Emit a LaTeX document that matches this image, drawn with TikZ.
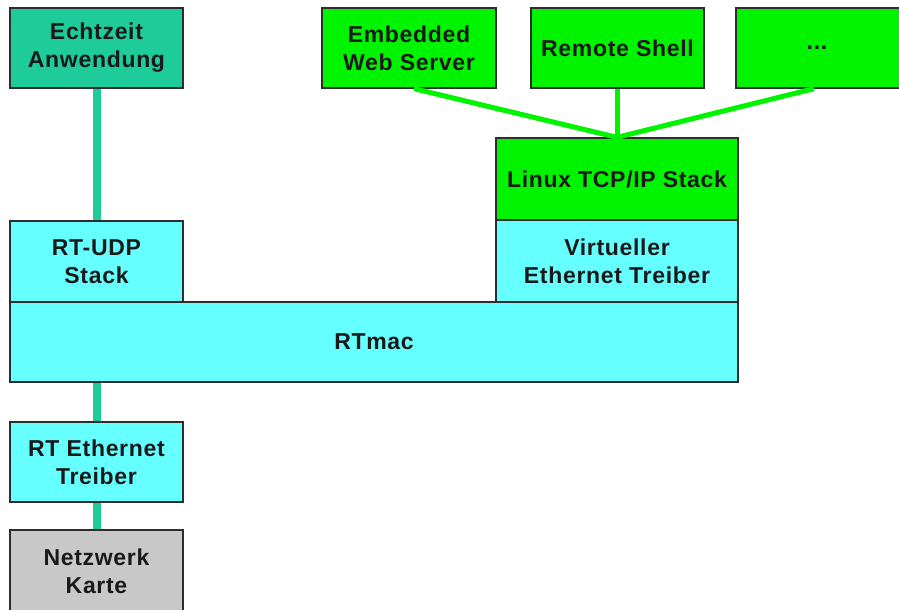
\documentclass[tikz,border=0pt]{standalone}
\usepackage{fontspec}
\setmainfont[LetterSpace=3]{Liberation Sans}
\definecolor{appteal}{RGB}{30,204,153}
\definecolor{linuxgreen}{RGB}{0,244,0}
\definecolor{rtcyan}{RGB}{102,255,255}
\definecolor{nicgray}{RGB}{200,200,200}
\definecolor{edgegray}{RGB}{45,45,45}
\begin{document}
\begin{tikzpicture}[x=1pt,y=-1pt,
  layer/.style={draw=edgegray, line width=1.3pt, inner sep=0pt, align=center,
    text=black!90, font=\bfseries\fontsize{23}{28}\selectfont},
  teallink/.style={draw=appteal, line width=8pt},
  greenlink/.style={draw=linuxgreen, line width=5pt}]
\useasboundingbox (0,0) rectangle (899,610);

% application layer
\node[layer, fill=appteal, minimum width=173pt, minimum height=80pt] (echt) at (96.5,48) {Echtzeit\\Anwendung};
\node[layer, fill=linuxgreen, minimum width=174pt, minimum height=80pt] (web) at (409,48) {Embedded\\Web Server};
\node[layer, fill=linuxgreen, minimum width=173pt, minimum height=80pt] (shell) at (617.5,48) {Remote Shell};
\node[layer, fill=linuxgreen, minimum width=168pt, minimum height=80pt] (dots) at (820,48) {};
\node (dotstext) at (817,48) [font=\bfseries\fontsize{23}{28}\selectfont, text=black!90] {...};

% Linux side stack
\node[layer, fill=linuxgreen, minimum width=242pt, minimum height=82pt] (linux) at (617,179) {Linux TCP/IP Stack};
\node[layer, fill=rtcyan, minimum width=242pt, minimum height=82pt] (virt) at (617,261) {Virtueller\\Ethernet Treiber};

% real-time side stack
\node[layer, fill=rtcyan, minimum width=173pt, minimum height=81pt] (rtudp) at (96.5,261.5) {RT-UDP\\Stack};
\node[layer, fill=rtcyan, minimum width=728pt, minimum height=80pt] (rtmac) at (374,342) {RTmac};
\node[layer, fill=rtcyan, minimum width=173pt, minimum height=80pt] (rteth) at (96.5,462) {RT Ethernet\\Treiber};
\node[layer, fill=nicgray, minimum width=173pt, minimum height=82pt] (nic) at (96.5,571) {Netzwerk\\Karte};

% connectors
\draw[teallink] (echt.south) -- (rtudp.north);
\draw[teallink] (rtmac.south -| rteth.north) -- (rteth.north);
\draw[teallink] (rteth.south) -- (nic.north);
\draw[greenlink] ([xshift=5pt]web.south) -- (linux.north);
\draw[greenlink] (shell.south) -- (shell.south |- linux.north);
\draw[greenlink] ([xshift=-6pt]dots.south) -- (linux.north);
\end{tikzpicture}
\end{document}
